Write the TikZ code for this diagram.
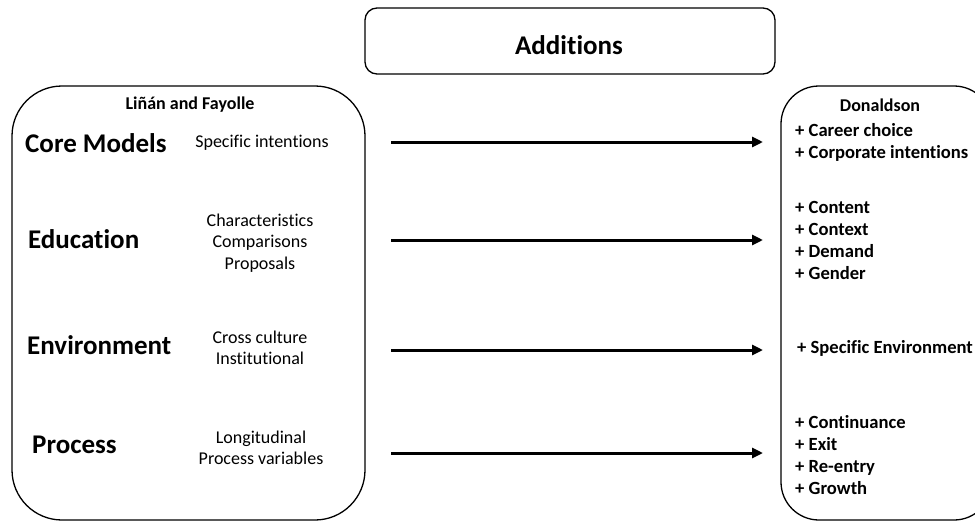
\documentclass[tikz,border=0pt]{standalone}
\usepackage{fontspec}
\setmainfont{Carlito}[Ligatures=NoCommon]
\usetikzlibrary{arrows.meta}
\begin{document}
\begin{tikzpicture}[x=1pt,y=-1pt,
  panel/.style={draw, line width=1.3pt, inner sep=0pt},
  heading/.style={font=\fontsize{18}{22}\selectfont\bfseries, inner sep=0pt},
  topic/.style={font=\fontsize{27}{30}\selectfont\bfseries, anchor=west, inner sep=0pt},
  detail/.style={font=\fontsize{18}{21.5}\selectfont, align=center, inner sep=0pt},
  addition/.style={font=\fontsize{18.6}{22}\selectfont\bfseries, align=left, anchor=west, inner sep=0pt},
  flow/.style={line width=3pt, -{Triangle[length=11pt,width=10pt]}}]
\useasboundingbox (0,0) rectangle (975,522);
\clip (0,0) rectangle (975,522);

% panels
\node[panel, rounded corners=12pt, minimum width=410pt, minimum height=66pt] (addbox) at (570,41) {};
\node[font=\fontsize{27}{30}\selectfont\bfseries, inner sep=0pt] (addt) at (569,45) {Additions};

\node[panel, rounded corners=50pt, minimum width=353pt, minimum height=434pt] (lbox) at (188.5,303) {};
\node[panel, rounded corners=38pt, minimum width=211pt, minimum height=434pt] (rbox) at (886.5,303) {};

% left panel
\node[heading] (lf) at (190,105) {Liñán and Fayolle};
\node[topic] (core) at (25,143) {Core Models};
\node[topic] (edu) at (28,239) {Education};
\node[topic] (env) at (27,345) {Environment};
\node[topic] (proc) at (32,445) {Process};

\node[detail] (d1) at (262,143) {Specific intentions};
\node[detail] (d2) at (260,243) {Characteristics\\Comparisons\\Proposals};
\node[detail] (d3) at (260,348) {Cross culture\\Institutional};
\node[detail] (d4) at (261,448) {Longitudinal\\Process variables};

% right panel
\node[heading] (don) at (880,105) {Donaldson};
\node[addition] (r1) at (795,142) {+ Career choice\\+ Corporate intentions};
\node[addition] (r2) at (795,240) {+ Content\\+ Context\\+ Demand\\+ Gender};
\node[addition] (r3) at (797,348) {+ Specific Environment};
\node[addition] (r4) at (795,455) {+ Continuance\\+ Exit\\+ Re-entry\\+ Growth};

% connectors
\coordinate (s1) at (391,142); \coordinate (e1) at (763,142);
\coordinate (s2) at (391,240); \coordinate (e2) at (763,240);
\coordinate (s3) at (391,350); \coordinate (e3) at (763,350);
\coordinate (s4) at (391,453); \coordinate (e4) at (763,453);
\draw[flow] (s1) -- (e1);
\draw[flow] (s2) -- (e2);
\draw[flow] (s3) -- (e3);
\draw[flow] (s4) -- (e4);
\end{tikzpicture}
\end{document}
